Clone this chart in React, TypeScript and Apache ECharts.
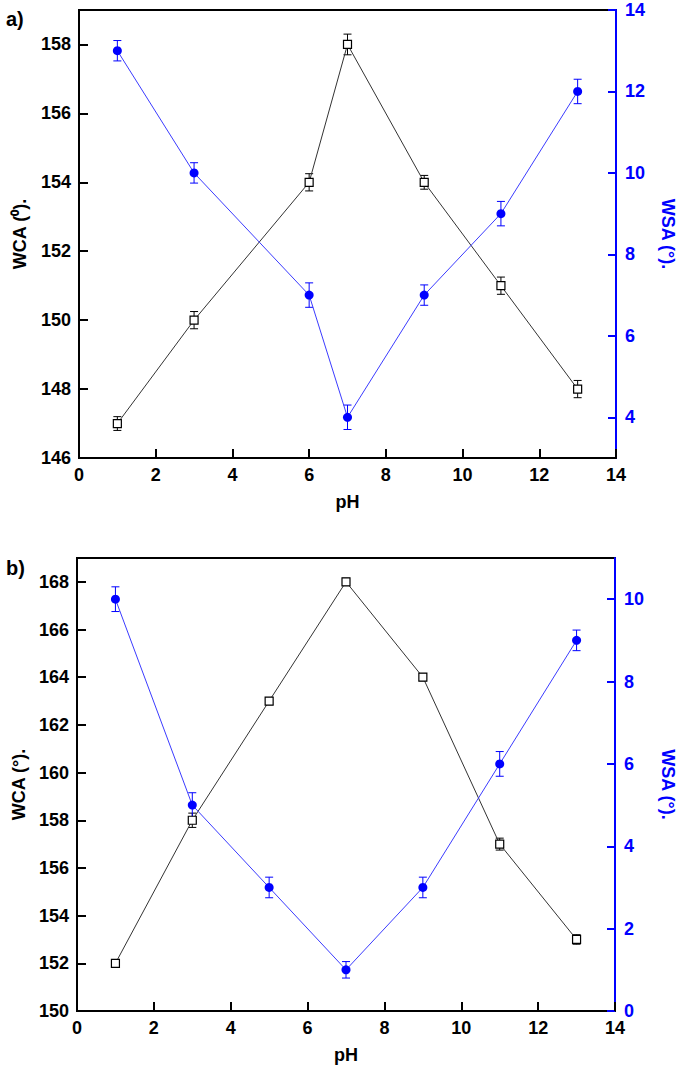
import React, { useEffect, useRef } from "react";
import * as echarts from "echarts";

// ---- data ----
const phA = [1, 3, 6, 7, 9, 11, 13];
const wcaA = [147, 150, 154, 158, 154, 151, 148];
const wcaAErr = [0.2, 0.25, 0.25, 0.3, 0.2, 0.25, 0.25];
const wsaA = [13, 10, 7, 4, 7, 9, 12];
const wsaAErr = [0.25, 0.25, 0.3, 0.3, 0.25, 0.3, 0.3];

const phB = [1, 3, 5, 7, 9, 11, 13];
const wcaB = [152, 158, 163, 168, 164, 157, 153];
const wcaBErr = [0.15, 0.3, 0.15, 0.15, 0.15, 0.25, 0.2];
const wsaB = [10, 5, 3, 1, 3, 6, 9];
const wsaBErr = [0.3, 0.3, 0.25, 0.2, 0.25, 0.3, 0.25];

const xTicks = [0, 2, 4, 6, 8, 10, 12, 14];
const wcaATicks = [146, 148, 150, 152, 154, 156, 158];
const wsaATicks = [4, 6, 8, 10, 12, 14];
const wcaBTicks = [150, 152, 154, 156, 158, 160, 162, 164, 166, 168];
const wsaBTicks = [0, 2, 4, 6, 8, 10];

const BLUE = "#0000ff";
const FONT = "Liberation Sans, Arial, sans-serif";
const FS = 18;

const pairs = (xs: number[], ys: number[]) => xs.map((x, i) => [x, ys[i]]);
const triples = (xs: number[], ys: number[], es: number[]) =>
  xs.map((x, i) => [x, ys[i], es[i]]);

function errorSeries(data: number[][], xi: number, yi: number, color: string) {
  return {
    type: "custom",
    xAxisIndex: xi,
    yAxisIndex: yi,
    data,
    encode: { x: 0, y: 1 },
    z: 3,
    silent: true,
    renderItem: (params: any, api: any) => {
      const x = api.value(0);
      const y = api.value(1);
      const e = api.value(2);
      const t = api.coord([x, y + e]);
      const b = api.coord([x, y - e]);
      const w = 4;
      const st = { stroke: color, lineWidth: 1 };
      return {
        type: "group",
        children: [
          { type: "line", shape: { x1: t[0], y1: t[1], x2: b[0], y2: b[1] }, style: st },
          { type: "line", shape: { x1: t[0] - w, y1: t[1], x2: t[0] + w, y2: t[1] }, style: st },
          { type: "line", shape: { x1: b[0] - w, y1: b[1], x2: b[0] + w, y2: b[1] }, style: st },
        ],
      };
    },
  };
}

function xAxis(gi: number) {
  return {
    type: "value",
    gridIndex: gi,
    min: 0,
    max: 14,
    interval: 2,
    name: "pH",
    nameLocation: "middle",
    nameGap: 35,
    nameTextStyle: { color: "#000", fontSize: FS, fontWeight: "bold", fontFamily: FONT },
    axisLine: { lineStyle: { color: "#000", width: 2 } },
    axisTick: { inside: true, length: 9, lineStyle: { color: "#000", width: 2 }, customValues: xTicks },
    axisLabel: { color: "#000", fontSize: FS, fontWeight: "bold", fontFamily: FONT, margin: 8, customValues: xTicks },
    splitLine: { show: false },
  };
}

function leftAxis(gi: number, min: number, max: number, ticks: number[], name: string, gap: number) {
  return {
    type: "value",
    gridIndex: gi,
    position: "left",
    min,
    max,
    name,
    nameLocation: "middle",
    nameGap: gap,
    nameTextStyle: { color: "#000", fontSize: FS, fontWeight: "bold", fontFamily: FONT },
    axisLine: { show: true, lineStyle: { color: "#000", width: 2 } },
    axisTick: { inside: true, length: 9, lineStyle: { color: "#000", width: 2 }, customValues: ticks },
    axisLabel: { color: "#000", fontSize: FS, fontWeight: "bold", fontFamily: FONT, margin: 8, customValues: ticks },
    splitLine: { show: false },
  };
}

function rightAxis(gi: number, min: number, max: number, ticks: number[], name: string, gap: number) {
  return {
    type: "value",
    gridIndex: gi,
    position: "right",
    min,
    max,
    name,
    nameLocation: "middle",
    nameRotate: -90,
    nameGap: gap,
    nameTextStyle: { color: BLUE, fontSize: FS, fontWeight: "bold", fontFamily: FONT },
    axisLine: { show: true, lineStyle: { color: BLUE, width: 2 } },
    axisTick: { inside: true, length: 8, lineStyle: { color: BLUE, width: 2 }, customValues: ticks },
    axisLabel: { color: BLUE, fontSize: FS, fontWeight: "bold", fontFamily: FONT, margin: 9, customValues: ticks },
    splitLine: { show: false },
  };
}

function lineSeries(data: number[][], xi: number, yi: number, kind: "wca" | "wsa") {
  const isW = kind === "wca";
  return {
    type: "line",
    xAxisIndex: xi,
    yAxisIndex: yi,
    data,
    z: 4,
    symbol: isW ? "rect" : "circle",
    symbolSize: isW ? 8 : 9,
    lineStyle: { color: isW ? "#333" : "#3b3bff", width: 1 },
    itemStyle: isW
      ? { color: "#fff", borderColor: "#000", borderWidth: 1.2 }
      : { color: BLUE, borderColor: BLUE, borderWidth: 0 },
  };
}

export default function App() {
  const ref = useRef<HTMLDivElement>(null);
  useEffect(() => {
    document.body.style.margin = "0";
    const chart = echarts.init(ref.current!, null, { renderer: "svg" });
    chart.setOption({
      animation: false,
      backgroundColor: "#fff",
      grid: [
        { left: 79, right: 68, top: 10, height: 448, show: true, borderColor: "#000", borderWidth: 2, backgroundColor: "transparent" },
        { left: 77, right: 64, top: 558, height: 453, show: true, borderColor: "#000", borderWidth: 2, backgroundColor: "transparent" },
      ],
      xAxis: [xAxis(0), xAxis(1)],
      yAxis: [
        leftAxis(0, 146, 159, wcaATicks, "WCA (⁰).", 50),
        rightAxis(0, 3, 14, wsaATicks, "WSA (°).", 43),
        leftAxis(1, 150, 169, wcaBTicks, "WCA (°).", 48),
        rightAxis(1, 0, 11, wsaBTicks, "WSA (°).", 44),
      ],
      graphic: [
        { type: "text", left: 6, top: 9, style: { text: "a)", fontSize: 20, fontWeight: "bold", fontFamily: FONT, fill: "#000" } },
        { type: "text", left: 6, top: 558, style: { text: "b)", fontSize: 20, fontWeight: "bold", fontFamily: FONT, fill: "#000" } },
      ],
      series: [
        lineSeries(pairs(phA, wcaA), 0, 0, "wca"),
        errorSeries(triples(phA, wcaA, wcaAErr), 0, 0, "#000"),
        lineSeries(pairs(phA, wsaA), 0, 1, "wsa"),
        errorSeries(triples(phA, wsaA, wsaAErr), 0, 1, BLUE),
        lineSeries(pairs(phB, wcaB), 1, 2, "wca"),
        errorSeries(triples(phB, wcaB, wcaBErr), 1, 2, "#000"),
        lineSeries(pairs(phB, wsaB), 1, 3, "wsa"),
        errorSeries(triples(phB, wsaB, wsaBErr), 1, 3, BLUE),
      ],
    });
    return () => chart.dispose();
  }, []);
  return <div ref={ref} style={{ width: 685, height: 1077 }} />;
}
